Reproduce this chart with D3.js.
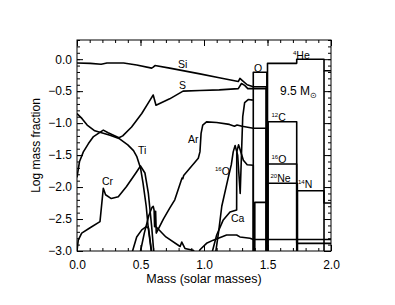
<!DOCTYPE html>
<html>
<head>
<meta charset="utf-8">
<script src="https://cdn.jsdelivr.net/npm/d3@7"></script>
<style>
  body { margin: 0; background: #fff; }
  svg text { font-family: "Liberation Sans", Arial, sans-serif; fill: #000; }
</style>
</head>
<body>
<div id="chart"></div>
<script>
// composition of a 9.5 Msun presupernova star, log mass fraction vs mass

const xTicks = [0, 0.5, 1.0, 1.5, 2.0]
const yTicks = [-3.0, -2.5, -2.0, -1.5, -1.0, -0.5, 0.0]

// inner (Si/S core) profiles: [mass, log X]
const si = [[0,-0.06],[0.105,-0.065],[0.19,-0.08],[0.236,-0.06],[0.367,-0.06],[0.47,-0.09],[0.588,-0.14],[0.6,-0.125],[0.614,-0.10],[0.73,-0.14],[0.968,-0.23],[1.12,-0.29],[1.27,-0.35],[1.283,-0.30],[1.3,-0.33],[1.34,-0.40],[1.388,-0.43],[1.49,-0.43],[1.49,-3.2]]
const s = [[0,-1.85],[0.02,-1.6],[0.05,-1.45],[0.09,-1.32],[0.13,-1.21],[0.207,-1.11],[0.245,-1.15],[0.33,-1.23],[0.36,-1.2],[0.43,-1.06],[0.51,-0.85],[0.575,-0.64],[0.6,-0.56],[0.622,-0.72],[0.73,-0.62],[0.835,-0.50],[0.968,-0.49],[1.12,-0.48],[1.27,-0.46],[1.295,-0.38],[1.32,-0.41],[1.345,-0.46],[1.388,-0.46],[1.49,-0.46],[1.49,-3.2]]
const ti = [[0,-0.85],[0.04,-0.93],[0.08,-1.03],[0.14,-1.12],[0.207,-1.16],[0.26,-1.19],[0.33,-1.24],[0.40,-1.34],[0.445,-1.43],[0.47,-1.52],[0.5,-1.7],[0.52,-1.94],[0.545,-2.3],[0.56,-2.62],[0.588,-3.05]]
const cr = [[0,-3.0],[0.01,-2.83],[0.037,-2.72],[0.1,-2.64],[0.181,-2.54],[0.207,-2.02],[0.225,-2.12],[0.27,-2.18],[0.325,-2.15],[0.39,-1.99],[0.47,-1.76],[0.5,-1.67],[0.535,-1.78],[0.562,-2.1],[0.588,-2.62],[0.606,-3.05]]
const hump = [[0.43,-3.05],[0.47,-2.78],[0.51,-2.67],[0.545,-2.62],[0.563,-2.64],[0.59,-3.05]]
const ar = [[0.495,-3.05],[0.53,-2.72],[0.565,-2.45],[0.59,-2.32],[0.6,-2.30],[0.607,-2.36],[0.611,-2.62],[0.615,-2.42],[0.619,-2.38],[0.624,-2.72],[0.68,-2.5],[0.73,-2.33],[0.77,-2.2],[0.827,-1.86],[0.833,-1.87],[0.84,-1.82],[0.9,-1.68],[0.955,-1.55],[0.968,-1.45],[0.977,-1.16],[0.99,-1.03],[1.02,-0.98],[1.1,-0.99],[1.2,-1.02],[1.24,-1.05],[1.26,-1.03],[1.3,-1.05],[1.388,-1.08],[1.49,-1.08],[1.49,-3.2]]
const tail = [[0.622,-2.62],[0.7,-2.78],[0.812,-2.93],[0.825,-2.86],[0.85,-2.96],[0.915,-2.99],[0.94,-3.05]]
const base = [[0.955,-3.05],[0.968,-2.98],[1.02,-2.88],[1.073,-2.83],[1.178,-2.75],[1.257,-2.75],[1.283,-2.78],[1.362,-2.80],[1.388,-2.82],[2.0,-2.82]]
const ca = [[1.06,-3.05],[1.1,-2.75],[1.15,-2.52],[1.205,-2.39],[1.257,-2.36],[1.258,-1.45],[1.272,-1.34],[1.29,-1.45],[1.31,-1.58],[1.34,-1.65],[1.388,-1.66],[1.388,-3.2]]
const o16 = [[1.09,-3.05],[1.115,-2.7],[1.14,-2.3],[1.19,-1.86],[1.215,-1.65],[1.23,-1.45],[1.245,-1.35],[1.265,-1.5],[1.285,-2.1],[1.295,-1.5],[1.305,-0.9],[1.32,-0.68],[1.35,-0.63],[1.385,-0.64]]

// outer shells (step profiles)
const oShell = [[1.388,-3.2],[1.388,-0.205],[1.495,-0.205],[1.495,-1.64],[1.73,-1.64],[1.73,-3.2]]
const he4 = [[1.5,-3.2],[1.5,-0.065],[1.73,-0.065],[1.73,0.0],[1.945,0.0],[1.945,-0.18],[2.0,-0.18]]
const c12 = [[1.505,-3.2],[1.505,-0.978],[1.73,-0.978],[1.73,-2.88],[2.0,-2.88]]
const ne20 = [[1.40,-3.2],[1.40,-2.24],[1.495,-2.24],[1.495,-1.94],[1.735,-1.94],[1.735,-3.2]]
const n14 = [[1.735,-3.2],[1.735,-2.057],[1.945,-2.057],[1.945,-2.25],[2.0,-2.25]]
const envEdge = [[1.945,-0.18],[1.945,-3.2]]

const curves = [si, s, ti, cr, hump, ar, tail, base, ca, o16, oShell, he4, c12, ne20, n14, envEdge]

const width = 395, height = 305
const margin = {left: 77, right: 64, top: 40, bottom: 54}

const x = d3.scaleLinear().domain([0, 2]).range([margin.left, width - margin.right])
const y = d3.scaleLinear().domain([-3, 0.3]).range([height - margin.bottom, margin.top])

const svg = d3.select('#chart').append('svg')
    .attr('width', width)
    .attr('height', height)

svg.append('clipPath').attr('id', 'clip')
    .append('rect')
    .attr('x', x(0)).attr('y', y(0.3))
    .attr('width', x(2) - x(0)).attr('height', y(-3) - y(0.3))

const line = d3.line()
    .x(d => x(d[0]))
    .y(d => y(d[1]))

svg.append('g')
    .attr('clip-path', 'url(#clip)')
    .selectAll('path')
    .data(curves)
    .enter()
    .append('path')
    .attr('d', line)
    .attr('fill', 'none')
    .attr('stroke', '#000')
    .attr('stroke-width', 1.6)
    .attr('stroke-linejoin', 'round')

// axes, ticks inside on all four sides
const xMinor = d3.range(0, 2.001, 0.1)
const yMinor = d3.range(-3, 0.301, 0.1)
const fmt = d3.format('.1f')

function addAxis(axis, tx, ty, labels) {
    const g = svg.append('g')
        .attr('transform', `translate(${tx},${ty})`)
        .call(axis)
    g.select('.domain').remove()
    g.selectAll('line').attr('stroke', '#000')
    g.selectAll('text').style('font-size', '12px')
    if (!labels) g.selectAll('text').remove()
    return g
}

addAxis(d3.axisBottom(x).tickValues(xMinor).tickSize(-3).tickFormat(''), 0, y(-3))
addAxis(d3.axisBottom(x).tickValues(xTicks).tickSize(-6).tickPadding(9).tickFormat(fmt), 0, y(-3), true)
addAxis(d3.axisTop(x).tickValues(xMinor).tickSize(-3).tickFormat(''), 0, y(0.3))
addAxis(d3.axisTop(x).tickValues(xTicks).tickSize(-6).tickFormat(''), 0, y(0.3))
addAxis(d3.axisLeft(y).tickValues(yMinor).tickSize(-3).tickFormat(''), x(0), 0)
addAxis(d3.axisLeft(y).tickValues(yTicks).tickSize(-6).tickPadding(5).tickFormat(fmt), x(0), 0, true)
addAxis(d3.axisRight(y).tickValues(yMinor).tickSize(-3).tickFormat(''), x(2), 0)
addAxis(d3.axisRight(y).tickValues(yTicks).tickSize(-7).tickFormat(''), x(2), 0)

svg.append('rect')
    .attr('x', x(0)).attr('y', y(0.3))
    .attr('width', x(2) - x(0)).attr('height', y(-3) - y(0.3))
    .attr('fill', 'none')
    .attr('stroke', '#000')
    .attr('stroke-width', 1)

svg.append('text')
    .attr('x', (x(0) + x(2)) / 2)
    .attr('y', 283)
    .attr('text-anchor', 'middle')
    .style('font-size', '12.5px')
    .text('Mass (solar masses)')

svg.append('text')
    .attr('transform', `translate(40,${(y(-3) + y(0.3)) / 2}) rotate(-90)`)
    .attr('text-anchor', 'middle')
    .style('font-size', '12px')
    .text('Log mass fraction')

// element labels: [sup, name, x px, baseline px]
const labels = [
    ['', 'Si', 178, 68],
    ['', 'S', 179, 89],
    ['', 'Ar', 188, 143],
    ['', 'Ti', 138, 154],
    ['', 'Cr', 102, 185],
    ['16', 'O', 215, 175],
    ['', 'Ca', 231, 222],
    ['', 'O', 254, 71.5],
    ['4', 'He', 293, 58.5],
    ['12', 'C', 271.5, 120.5],
    ['16', 'O', 271.5, 162.5],
    ['20', 'Ne', 270.5, 181.5],
    ['14', 'N', 298, 187.5]
]

labels.forEach(function (d) {
    const t = svg.append('text')
        .attr('x', d[2])
        .attr('y', d[3])
        .style('font-size', '10.5px')
    if (d[0]) {
        t.append('tspan').attr('dy', -4).style('font-size', '6px').text(d[0])
        t.append('tspan').attr('dy', 4).text(d[1])
    } else {
        t.text(d[1])
    }
})

const mass = svg.append('text')
    .attr('x', 280)
    .attr('y', 95)
    .style('font-size', '12px')
mass.append('tspan').text('9.5 M')
mass.append('tspan').attr('dy', 3).style('font-size', '8px').text('\u2299')
</script>
</body>
</html>
